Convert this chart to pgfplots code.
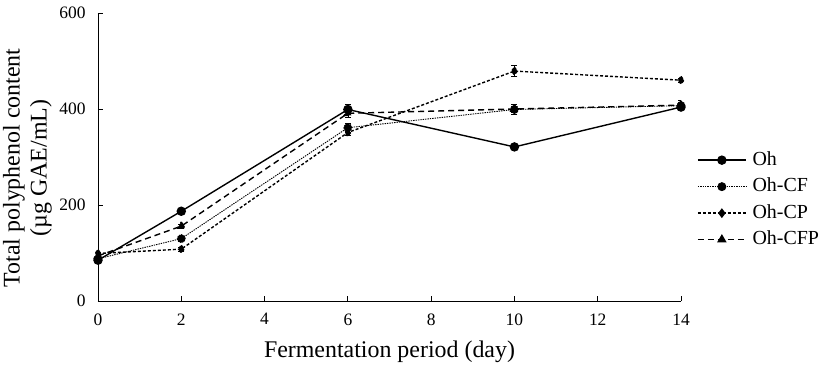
\documentclass[border=0pt]{standalone}
\usepackage{fontspec}
\setmainfont{Liberation Serif}
\usepackage{pgfplots}
\pgfplotsset{compat=1.18}
\begin{document}
\begin{tikzpicture}
\begin{axis}[
  scale only axis,
  width=583bp, height=288bp,
  xmin=0, xmax=14, ymin=0, ymax=600,
  axis lines=left,
  axis line style={-, line width=1pt},
  xtick={0,2,...,14}, ytick={0,200,400,600},
  tick align=inside, major tick length=5.5bp,
  tick style={line width=0.9pt, black},
  /pgf/number format/assume math mode=true,
  ticklabel style={font=\fontsize{17.5}{19}\selectfont},
  yticklabel style={xshift=-9bp},
  xticklabel style={yshift=-9bp},
  xlabel={Fermentation period (day)},
  ylabel={Total polyphenol content\\(µg GAE/mL)},
  ylabel style={at={(axis description cs:-0.121,0.462)}, anchor=center, align=center, font=\fontsize{24}{27}\selectfont},
  xlabel style={at={(axis description cs:0.5,-0.177)}, anchor=center, font=\fontsize{24}{26}\selectfont},
  legend style={at={(axis description cs:1.0274,0.351)}, anchor=west, draw=none, inner sep=0pt, font=\fontsize{20}{22}\selectfont, row sep=8.5bp, column sep=6bp, nodes={inner sep=0pt, text height=14bp, text depth=4bp}},
  legend cell align=left,
  legend image code/.code={\draw[#1] (0bp,0bp) -- (48bp,0bp); \draw[#1,solid] plot coordinates {(24bp,0bp)};},
  every axis plot/.append style={black, line width=1.4pt},
  error bars/error bar style={line width=0.7pt, solid},
  error bars/error mark options={rotate=90, mark size=3bp, line width=0.7pt},
]
\addplot[solid, mark=*, mark size=4bp, error bars/.cd, y dir=both, y explicit]
  coordinates {(0,85)+-(0,3) (2,187)+-(0,4) (6,399)+-(0,10) (10,321)+-(0,4) (14,404)+-(0,5)};
\addlegendentry{Oh}
\addplot[densely dotted, line width=0.9pt, mark=*, mark size=4bp, error bars/.cd, y dir=both, y explicit]
  coordinates {(0,88)+-(0,3) (2,130)+-(0,4) (6,361)+-(0,10) (10,399)+-(0,10) (14,407)+-(0,10)};
\addlegendentry{Oh-CF}
\addplot[dash pattern=on 3bp off 2bp, mark=diamond*, mark size=3.8bp, error bars/.cd, y dir=both, y explicit]
  coordinates {(0,99)+-(0,3) (2,108)+-(0,4) (6,351)+-(0,6) (10,479)+-(0,11) (14,460)+-(0,4)};
\addlegendentry{Oh-CP}
\addplot[dash pattern=on 6bp off 4bp, mark=triangle*, mark size=4.2bp, error bars/.cd, y dir=both, y explicit]
  coordinates {(0,94)+-(0,3) (2,156)+-(0,4) (6,391)+-(0,8) (10,400)+-(0,6) (14,408)+-(0,6)};
\addlegendentry{Oh-CFP}
\end{axis}
\pgfresetboundingbox
\path (-98bp,-67bp) rectangle (729bp,301bp);
\end{tikzpicture}
\end{document}
